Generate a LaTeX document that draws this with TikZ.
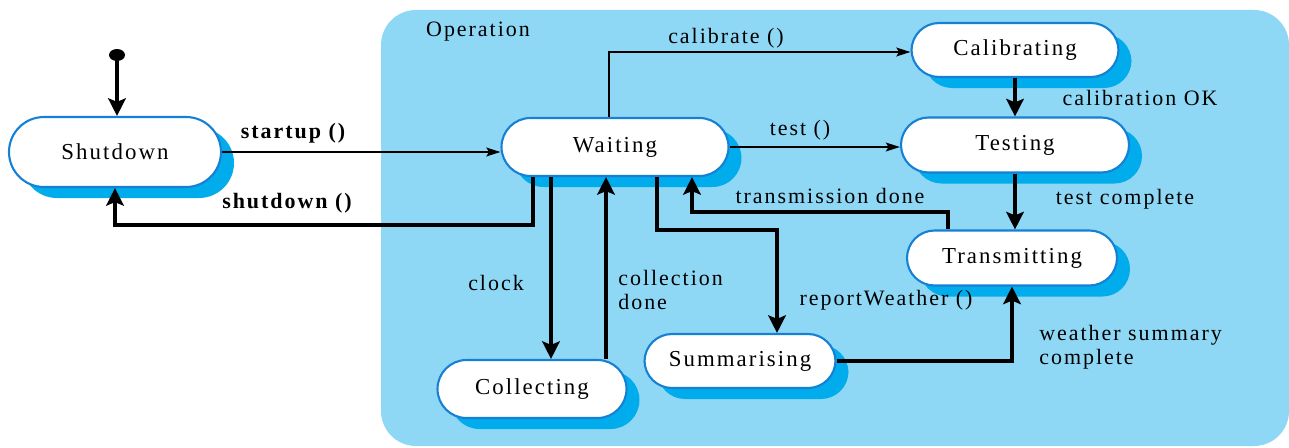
\documentclass[tikz,border=0pt]{standalone}
\usepackage{fontspec}
\setmainfont{Liberation Serif}[LetterSpace=9]
\usetikzlibrary{arrows.meta,positioning,shadows}
\definecolor{opblue}{RGB}{143,216,245}
\definecolor{shblue}{RGB}{0,172,236}
\definecolor{rimblue}{RGB}{22,128,212}

\begin{document}
\begin{tikzpicture}[
  st/.style={draw=rimblue,line width=1.2pt,fill=white,inner sep=0pt,
    minimum width=#1,minimum height=1.1cm,rounded corners=0.55cm,
    font=\fontsize{13}{15}\selectfont,
    general shadow={fill=shblue,shadow xshift=0.26cm,shadow yshift=-0.22cm}},
  lbl/.style={font=\fontsize{12.5}{13.5}\selectfont,inner sep=0pt},
  blbl/.style={lbl,font=\fontsize{12.5}{13.5}\selectfont\bfseries},
  flow/.style={line width=2pt,-{Stealth[length=10pt,width=10pt,inset=2pt]}},
  call/.style={line width=1pt,-{Stealth[length=8pt,width=5pt,inset=1.5pt]}}
]
  % frame and Operation region
  \useasboundingbox (0,0) rectangle (25.78,8.94);
  \fill[opblue,rounded corners=0.7cm] (7.62,0.02) rectangle (25.78,8.74);
  \node[lbl] (optitle) at (9.56,8.30) {Operation};

  % states
  \fill (2.34,7.84) ellipse (0.16cm and 0.12cm);
  \coordinate (init) at (2.34,7.72);
  \node[st=4.24cm,minimum height=1.4cm,rounded corners=0.7cm] (shutdown) at (2.30,5.90) {Shutdown};
  \node[st=4.54cm,rounded corners=0.58cm,minimum height=1.16cm] (waiting) at (12.30,6.00) {Waiting};
  \node[st=4.14cm,minimum height=1.08cm] (calibrating) at (20.30,7.94) {Calibrating};
  \node[st=4.56cm] (testing) at (20.30,6.04) {Testing};
  \node[st=4.20cm] (transmitting) at (20.24,3.78) {Transmitting};
  \node[st=3.78cm,rounded corners=0.58cm,minimum height=1.16cm] (collecting) at (10.64,1.16) {Collecting};
  \node[st=3.82cm,minimum height=1.08cm] (summarising) at (14.80,1.72) {Summarising};

  % turning points
  \coordinate (sdturn) at (10.66,4.44);
  \coordinate (rwturn) at (15.54,4.34);
  \coordinate (tdturn) at (13.84,4.70);
  \coordinate (cbturn) at (12.18,7.90);

  % transitions
  \draw[flow] (init) -- (init |- shutdown.north);
  \draw[call] (shutdown.east) -- (shutdown.east -| waiting.west);
  \draw[flow] (waiting.south -| sdturn) -- (sdturn) -| (shutdown.south);
  \draw[call] (waiting.north -| cbturn) -- (cbturn) -- (cbturn -| calibrating.west);
  \draw[call] (waiting.east) -- (waiting.east -| testing.west);
  \draw[flow] (calibrating.south) -- (testing.north);
  \draw[flow] (testing.south) -- (testing.south |- transmitting.north);
  \draw[flow] ([xshift=-1.28cm]transmitting.north) |- (tdturn) -- (tdturn |- waiting.south);
  \draw[flow] ([xshift=0.84cm]waiting.south) |- (rwturn) -- (rwturn |- summarising.north);
  \draw[flow] ([xshift=-1.28cm]waiting.south) -- ([xshift=-1.28cm]waiting.south |- collecting.north);
  \draw[flow] ([xshift=1.48cm]collecting.north) -- ([xshift=1.48cm]collecting.north |- waiting.south);
  \draw[flow] (summarising.east) -| (transmitting.south);

  % labels
  \node[blbl] (startuplbl) at (5.86,6.28) {startup ()};
  \node[blbl] (shutdownlbl) at (5.74,4.88) {shutdown ()};
  \node[lbl] (calibratelbl) at (14.52,8.18) {calibrate ()};
  \node[lbl] (testlbl) at (16.00,6.34) {test ()};
  \node[lbl] (callbl) at (22.80,6.98) {calibration OK};
  \node[lbl] (tclbl) at (22.50,4.96) {test complete};
  \node[lbl] (tdlbl) at (16.60,5.02) {transmission done};
  \node[lbl] (clocklbl) at (9.92,3.28) {clock};
  \node[lbl,anchor=west,align=left] (cdlbl) at (12.36,3.14) {collection\\done};
  \node[lbl] (rwlbl) at (17.72,2.94) {reportWeather ()};
  \node[lbl,anchor=west,align=left] (wslbl) at (20.78,2.00) {weather summary\\complete};
\end{tikzpicture}
\end{document}
